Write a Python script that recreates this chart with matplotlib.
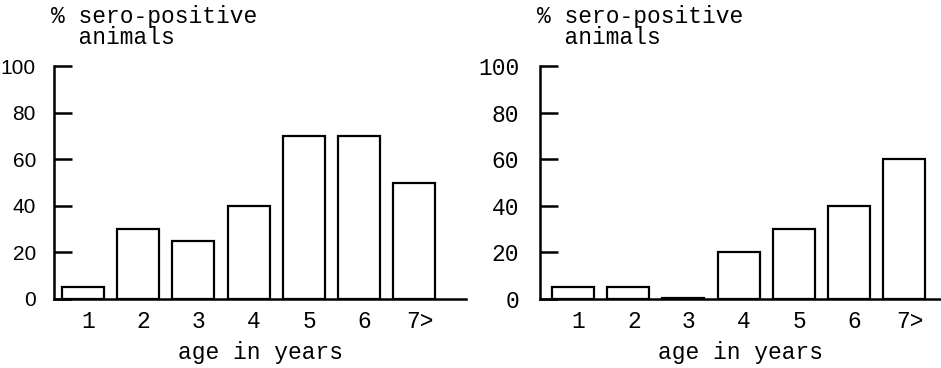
import numpy as np
import matplotlib.pyplot as plt

# data
ages = ['1', '2', '3', '4', '5', '6', '7>']
left_pct = [5, 30, 25, 40, 70, 70, 50]
right_pct = [5, 5, 0.4, 20, 30, 40, 60]
yticks = [0, 20, 40, 60, 80, 100]

mono = 'Liberation Mono'
fs = 16.5

fig = plt.figure(figsize=(9.41, 3.68), dpi=100)
axL = fig.add_axes([54 / 941, 69 / 368, 412 / 941, 233 / 368])
axR = fig.add_axes([540 / 941, 69 / 368, 401 / 941, 233 / 368])


def draw(ax, vals, xlim, yfont, yfs, ypad):
    x = np.arange(len(vals))
    ax.bar(x, vals, width=0.76, facecolor='white', edgecolor='black', linewidth=1.6)
    ax.set_xlim(*xlim)
    ax.set_ylim(0, 100)
    for s in ['top', 'right']:
        ax.spines[s].set_visible(False)
    ax.spines['left'].set_linewidth(1.8)
    ax.spines['bottom'].set_linewidth(1.8)
    ax.set_xticks(x + 0.1)
    ax.set_xticklabels(ages, fontfamily=mono, fontsize=fs)
    ax.tick_params(axis='x', length=0, pad=8)
    ax.set_yticks(yticks)
    ax.set_yticklabels([str(v) for v in yticks], fontfamily=yfont, fontsize=yfs)
    ax.tick_params(axis='y', direction='in', length=13, width=1.8, pad=ypad)
    ax.set_xlabel('age in years', fontfamily=mono, fontsize=fs, labelpad=6)
    ax.annotate('% sero-positive\n  animals', xy=(0, 1), xycoords='axes fraction',
                xytext=(-2, 12), textcoords='offset points', ha='left', va='bottom',
                fontfamily=mono, fontsize=fs, linespacing=0.9)


draw(axL, left_pct, (-0.525, 6.94), 'Liberation Sans', 15, 13)
draw(axR, right_pct, (-0.6, 6.67), mono, fs, 15)

fig.savefig('out.png', dpi=100)
